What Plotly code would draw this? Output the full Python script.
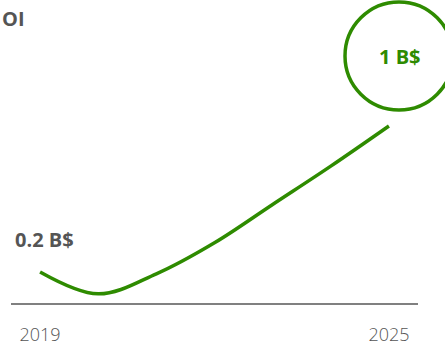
import plotly.graph_objects as go

years = [2019, 2020, 2021, 2022, 2023, 2024, 2025]
values = [0.2, 0.08, 0.19, 0.36, 0.57, 0.78, 1.0]
tick_vals = [2019, 2025]
tick_text = ["2019", "2025"]
start_label = "0.2 B$"
end_label = "1 B$"
title_text = "OI"

GREEN = "#2e8b00"
GRAY = "#555555"
W, H = 445, 347
ML, MR, MT, MB = 11, 27, 0, 44
PW, PH = W - ML - MR, H - MT - MB
FONT = "Open Sans"


def px_x(p):
    return (p - ML) / PW


def px_y(p):
    return (H - MB - p) / PH


fig = go.Figure()
fig.add_trace(go.Scatter(
    x=years, y=values, mode="lines",
    line=dict(color=GREEN, width=3.5, shape="spline", smoothing=1.0),
    hoverinfo="skip", showlegend=False,
))

fig.update_layout(
    width=W, height=H,
    margin=dict(l=ML, r=MR, t=MT, b=MB, autoexpand=False),
    paper_bgcolor="white", plot_bgcolor="white",
    showlegend=False,
    xaxis=dict(
        range=[2018.5, 2025.5], showgrid=False, zeroline=False,
        showline=True, linecolor="#808080", linewidth=2,
        tickvals=tick_vals, ticktext=tick_text,
        ticks="outside", ticklen=14, tickcolor="rgba(0,0,0,0)",
        tickfont=dict(family=FONT, size=18, color=GRAY, weight=300),
        fixedrange=True,
    ),
    yaxis=dict(range=[0.03, 1.69], visible=False, fixedrange=True),
    shapes=[dict(
        type="circle", xref="paper", yref="paper",
        x0=px_x(345), x1=px_x(453), y0=px_y(110), y1=px_y(2),
        line=dict(color=GREEN, width=3.5), layer="above",
    )],
    annotations=[
        dict(text=f"<b>{end_label}</b>", xref="paper", yref="paper",
             x=px_x(400), y=px_y(56), xanchor="center", yanchor="middle",
             showarrow=False,
             font=dict(family=FONT, size=20, color=GREEN)),
        dict(text=f"<b>{start_label}</b>", xref="paper", yref="paper",
             x=px_x(13), y=px_y(239), xanchor="left", yanchor="middle",
             showarrow=False,
             font=dict(family=FONT, size=20, color=GRAY)),
        dict(text=f"<b>{title_text}</b>", xref="paper", yref="paper",
             x=px_x(0), y=px_y(18), xanchor="left", yanchor="middle",
             showarrow=False,
             font=dict(family=FONT, size=20, color=GRAY)),
    ],
)

fig.write_html("out.html")
